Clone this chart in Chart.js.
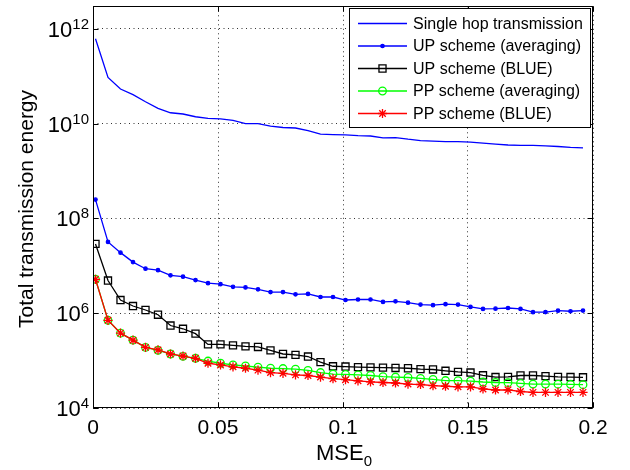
<!DOCTYPE html>
<html>
<head>
<meta charset="utf-8">
<title>Total transmission energy vs MSE0</title>
<script src="https://cdn.jsdelivr.net/npm/chart.js@4.4.0/dist/chart.umd.min.js"></script>
<style>
  html, body { margin: 0; padding: 0; background: #fff; }
  #wrap { width: 630px; height: 470px; position: relative; }
</style>
</head>
<body>
<div id="wrap"><canvas id="energyChart"></canvas></div>
<script>
// MSE_0 sample points (x axis)
const mse = [
  0.001, 0.006, 0.011, 0.016, 0.021, 0.026, 0.031, 0.036, 0.041, 0.046,
  0.051, 0.056, 0.061, 0.066, 0.071, 0.076, 0.081, 0.086, 0.091, 0.096,
  0.101, 0.106, 0.111, 0.116, 0.121, 0.126, 0.131, 0.136, 0.141, 0.146,
  0.151, 0.156, 0.161, 0.166, 0.171, 0.176, 0.181, 0.186, 0.191, 0.196
];

// total transmission energy for each scheme
const singleHop = [
  6.2e11, 9.5e10, 5.4e10, 4.1e10, 2.9e10, 2.1e10, 1.7e10, 1.6e10, 1.4e10, 1.3e10,
  1.26e10, 1.17e10, 1.0e10, 1.0e10, 8.9e9, 8.3e9, 8.1e9, 7.1e9, 6.0e9, 5.9e9,
  5.8e9, 5.6e9, 5.5e9, 5.0e9, 5.1e9, 4.7e9, 4.4e9, 4.3e9, 4.2e9, 4.17e9,
  4.1e9, 3.9e9, 3.7e9, 3.55e9, 3.5e9, 3.47e9, 3.4e9, 3.3e9, 3.16e9, 3.1e9
];
const upAveraging = [
  2.5e8, 3.2e7, 1.9e7, 1.2e7, 8.7e6, 8.1e6, 6.3e6, 5.9e6, 5.0e6, 4.3e6,
  4.1e6, 3.6e6, 3.5e6, 3.2e6, 2.8e6, 2.8e6, 2.5e6, 2.55e6, 2.2e6, 2.2e6,
  1.9e6, 1.95e6, 1.95e6, 1.73e6, 1.78e6, 1.67e6, 1.52e6, 1.48e6, 1.55e6, 1.52e6,
  1.36e6, 1.23e6, 1.25e6, 1.29e6, 1.23e6, 1.05e6, 1.06e6, 1.13e6, 1.1e6, 1.14e6
];
const upBlue = [
  2.9e7, 4.9e6, 1.9e6, 1.42e6, 1.17e6, 9.3e5, 5.5e5, 4.7e5, 3.7e5, 2.2e5,
  2.2e5, 2.1e5, 2.0e5, 1.94e5, 1.64e5, 1.38e5, 1.32e5, 1.22e5, 9.3e4, 7.6e4,
  7.5e4, 7.3e4, 7.2e4, 7.1e4, 7.0e4, 6.9e4, 6.6e4, 6.5e4, 6.1e4, 5.8e4,
  5.6e4, 4.9e4, 4.5e4, 4.55e4, 4.85e4, 4.85e4, 4.7e4, 4.55e4, 4.5e4, 4.45e4
];
const ppAveraging = [
  5.2e6, 7.1e5, 3.8e5, 2.7e5, 1.9e5, 1.65e5, 1.38e5, 1.23e5, 1.12e5, 9.8e4,
  8.8e4, 8.1e4, 7.7e4, 7.3e4, 6.9e4, 6.8e4, 6.6e4, 6.2e4, 5.6e4, 5.2e4,
  5.1e4, 5.0e4, 4.85e4, 4.6e4, 4.5e4, 4.4e4, 4.2e4, 4.0e4, 3.8e4, 3.77e4,
  3.7e4, 3.54e4, 3.45e4, 3.42e4, 3.3e4, 3.2e4, 3.2e4, 3.18e4, 3.16e4, 3.1e4
];
const ppBlue = [
  5.2e6, 7.1e5, 3.8e5, 2.7e5, 1.9e5, 1.68e5, 1.38e5, 1.25e5, 1.12e5, 8.8e4,
  8.1e4, 7.4e4, 6.9e4, 6.3e4, 5.6e4, 5.4e4, 5.0e4, 4.85e4, 4.5e4, 4.15e4,
  3.96e4, 3.75e4, 3.57e4, 3.45e4, 3.37e4, 3.2e4, 3.13e4, 2.96e4, 2.88e4, 2.8e4,
  2.8e4, 2.52e4, 2.4e4, 2.42e4, 2.23e4, 2.14e4, 2.14e4, 2.14e4, 2.14e4, 2.14e4
];

const seriesLabels = [
  'Single hop transmission',
  'UP scheme (averaging)',
  'UP scheme (BLUE)',
  'PP scheme (averaging)',
  'PP scheme (BLUE)'
];

// axis ticks
const xTickValues = [0, 0.05, 0.1, 0.15, 0.2];
const xTickLabels = ['0', '0.05', '0.1', '0.15', '0.2'];
const yTickValues = [1e4, 1e6, 1e8, 1e10, 1e12];
const yTickExponents = ['4', '6', '8', '10', '12'];

const FONT = "'Liberation Sans', Arial, Helvetica, sans-serif";

function toPoints(values) {
    return values.map((v, i) => ({ x: mse[i], y: v }));
}

// MATLAB-like frame: box, inward ticks, labels, legend
const matlabFrame = {
    id: 'matlabFrame',
    afterDraw(chart) {
        const { ctx, chartArea: a, scales: { x, y } } = chart;
        const L = Math.round(a.left) + 0.5, R = Math.round(a.right) - 0.5;
        const T = Math.round(a.top) + 0.5, B = Math.round(a.bottom) - 0.5;
        ctx.save();

        // axes box
        ctx.strokeStyle = '#000';
        ctx.lineWidth = 1;
        ctx.setLineDash([]);
        ctx.strokeRect(L, T, R - L, B - T);

        // inward tick marks on all four sides
        const tl = 5;
        ctx.beginPath();
        xTickValues.forEach(v => {
            const px = Math.round(x.getPixelForValue(v)) + 0.5;
            ctx.moveTo(px, B); ctx.lineTo(px, B - tl);
            ctx.moveTo(px, T); ctx.lineTo(px, T + tl);
        });
        yTickValues.forEach(v => {
            const py = Math.round(y.getPixelForValue(v)) + 0.5;
            ctx.moveTo(L, py); ctx.lineTo(L + tl, py);
            ctx.moveTo(R, py); ctx.lineTo(R - tl, py);
        });
        ctx.stroke();

        ctx.fillStyle = '#000';

        // x tick labels
        ctx.font = '21px ' + FONT;
        ctx.textAlign = 'center';
        ctx.textBaseline = 'alphabetic';
        xTickValues.forEach((v, i) => {
            ctx.fillText(xTickLabels[i], x.getPixelForValue(v), a.bottom + 26);
        });

        // y tick labels as 10 with superscript exponent
        yTickValues.forEach((v, i) => {
            const py = y.getPixelForValue(v);
            ctx.font = '15px ' + FONT;
            const ew = ctx.measureText(yTickExponents[i]).width;
            ctx.textAlign = 'right';
            ctx.fillText(yTickExponents[i], a.left - 4, py);
            ctx.font = '22px ' + FONT;
            ctx.fillText('10', a.left - 4 - ew, py + 8);
        });

        // y axis title
        ctx.save();
        ctx.translate(33, 209);
        ctx.rotate(-Math.PI / 2);
        ctx.font = '21px ' + FONT;
        ctx.textAlign = 'center';
        ctx.fillText('Total transmission energy', 0, 0);
        ctx.restore();

        // x axis title: MSE with subscript 0
        ctx.font = '22px ' + FONT;
        const mw = ctx.measureText('MSE').width;
        ctx.font = '15px ' + FONT;
        const sw = ctx.measureText('0').width;
        const cx = (a.left + a.right) / 2 + 1;
        const startX = cx - (mw + sw) / 2;
        ctx.textAlign = 'left';
        ctx.font = '22px ' + FONT;
        ctx.fillText('MSE', startX, 460);
        ctx.font = '15px ' + FONT;
        ctx.fillText('0', startX + mw, 466);

        // legend
        const lx = 349.5, ly = 8.5, lw = 241, lh = 119;
        ctx.fillStyle = '#fff';
        ctx.fillRect(lx, ly, lw, lh);
        ctx.strokeStyle = '#000';
        ctx.strokeRect(lx, ly, lw, lh);
        ctx.font = '16px ' + FONT;
        ctx.textAlign = 'left';
        ctx.textBaseline = 'middle';
        chart.data.datasets.forEach((ds, i) => {
            const rowY = ly + 15 + i * 22.5;
            ctx.strokeStyle = ds.borderColor;
            ctx.lineWidth = ds.borderWidth;
            ctx.beginPath();
            ctx.moveTo(358, rowY);
            ctx.lineTo(407, rowY);
            ctx.stroke();
            if (ds.pointRadius > 0) {
                ctx.fillStyle = ds.pointBackgroundColor;
                ctx.strokeStyle = ds.pointBorderColor;
                ctx.lineWidth = ds.pointBorderWidth;
                Chart.helpers.drawPoint(ctx, {
                    pointStyle: ds.pointStyle,
                    radius: ds.pointRadius,
                    borderWidth: ds.pointBorderWidth,
                    rotation: 0
                }, 382.5, rowY);
            }
            ctx.fillStyle = '#000';
            ctx.fillText(ds.label, 413, rowY + 1);
        });

        ctx.restore();
    }
};

function makeDataset(label, values, color, style, radius, fill, order) {
    return {
        label: label,
        data: toPoints(values),
        borderColor: color,
        borderWidth: 1.3,
        pointStyle: style,
        pointRadius: radius,
        pointBorderColor: color,
        pointBackgroundColor: fill,
        pointBorderWidth: 1.3,
        tension: 0,
        order: order
    };
}

const ctx = document.getElementById('energyChart');

new Chart(ctx, {
    type: 'line',
    data: {
        datasets: [
            makeDataset(seriesLabels[0], singleHop, '#0000ff', 'circle', 0, '#0000ff', 5),
            makeDataset(seriesLabels[1], upAveraging, '#0000ff', 'circle', 1.7, '#0000ff', 4),
            makeDataset(seriesLabels[2], upBlue, '#000000', 'rect', 5, 'rgba(0,0,0,0)', 3),
            makeDataset(seriesLabels[3], ppAveraging, '#00ff00', 'circle', 3.8, 'rgba(0,0,0,0)', 2),
            makeDataset(seriesLabels[4], ppBlue, '#ff0000', 'star', 4.6, '#ff0000', 1)
        ]
    },
    options: {
        responsive: true,
        maintainAspectRatio: false,
        animation: false,
        layout: {
            padding: { left: 93, right: 37, top: 6, bottom: 62 }
        },
        plugins: {
            legend: { display: false },
            tooltip: { enabled: false }
        },
        scales: {
            x: {
                type: 'linear',
                min: 0,
                max: 0.2,
                afterBuildTicks: scale => {
                    scale.ticks = xTickValues.map(v => ({ value: v }));
                },
                afterFit: scale => { scale.height = 0; },
                ticks: { display: false },
                grid: { color: '#333', lineWidth: 1, drawTicks: false },
                border: { display: false, dash: [1, 3.5] }
            },
            y: {
                type: 'logarithmic',
                min: 1e4,
                max: 3e12,
                afterBuildTicks: scale => {
                    scale.ticks = yTickValues.map(v => ({ value: v }));
                },
                afterFit: scale => { scale.width = 0; },
                ticks: { display: false },
                grid: { color: '#333', lineWidth: 1, drawTicks: false },
                border: { display: false, dash: [1, 3.5] }
            }
        }
    },
    plugins: [matlabFrame]
});
</script>
</body>
</html>
